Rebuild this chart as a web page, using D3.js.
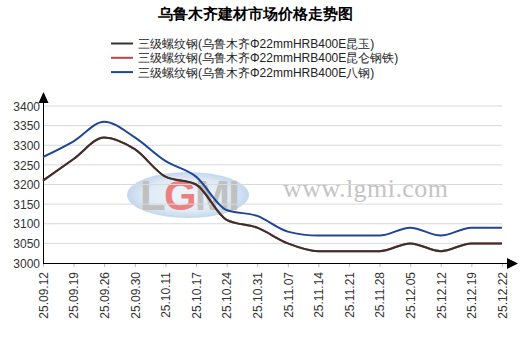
<!DOCTYPE html>
<html>
<head>
<meta charset="utf-8">
<script src="https://cdn.jsdelivr.net/npm/d3@7"></script>
<style>
  body { margin: 0; background: #fff; }
  text { font-family: "Liberation Sans", Arial, sans-serif; }
</style>
</head>
<body>
<div id="chart"></div>
<script>
// Chart data
var dates = ["25.09.12", "25.09.19", "25.09.26", "25.09.30", "25.10.11", "25.10.17", "25.10.24", "25.10.31",
             "25.11.07", "25.11.14", "25.11.21", "25.11.28", "25.12.05", "25.12.12", "25.12.19", "25.12.22"];
var kunyu   = [3210, 3265, 3320, 3290, 3220, 3200, 3110, 3090, 3050, 3030, 3030, 3030, 3050, 3030, 3050, 3050];
var kunlun  = [3210, 3265, 3320, 3290, 3220, 3200, 3110, 3090, 3050, 3030, 3030, 3030, 3050, 3030, 3050, 3050];
var bagang  = [3270, 3310, 3360, 3320, 3260, 3220, 3135, 3120, 3080, 3070, 3070, 3070, 3090, 3070, 3090, 3090];
var yTicks  = [3000, 3050, 3100, 3150, 3200, 3250, 3300, 3350, 3400];
var seriesNames = ["三级螺纹钢(乌鲁木齐Φ22mmHRB400E昆玉)", "三级螺纹钢(乌鲁木齐Φ22mmHRB400E昆仑钢铁)", "三级螺纹钢(乌鲁木齐Φ22mmHRB400E八钢)"];
var seriesColors = ["#3a3030", "#b84848", "#1f4596"];

var svgWidth = 521;
var svgHeight = 339;

var svg = d3.select("#chart")
  .append("svg")
  .attr("width", svgWidth)
  .attr("height", svgHeight);

// Scales
var xScale = d3.scalePoint()
  .domain(dates)
  .range([43, 502]);

var yScale = d3.scaleLinear()
  .domain([3000, 3400])
  .range([263, 106]);

// Watermark
var wm = svg.append("g");
var grad = svg.append("defs").append("radialGradient").attr("id", "wmgrad");
grad.append("stop").attr("offset", "0%").attr("stop-color", "#f2f6fb");
grad.append("stop").attr("offset", "70%").attr("stop-color", "#dfeaf5");
grad.append("stop").attr("offset", "100%").attr("stop-color", "#c2d8ee");
wm.append("ellipse")
  .attr("cx", 188).attr("cy", 195)
  .attr("rx", 61).attr("ry", 23)
  .attr("fill", "url(#wmgrad)");
var logo = wm.append("text")
  .attr("x", 190).attr("y", 210)
  .attr("text-anchor", "middle")
  .attr("textLength", 100)
  .style("font-size", "42px")
  .style("font-weight", "bold");
logo.append("tspan").attr("fill", "#c0c0c0").text("L");
logo.append("tspan").attr("fill", "#ec8080").text("G");
logo.append("tspan").attr("fill", "#c0c0c0").text("MI");
wm.append("text")
  .attr("x", 283).attr("y", 197)
  .attr("textLength", 165)
  .style("font-family", "'Liberation Serif', 'Times New Roman', serif")
  .style("font-size", "26px")
  .attr("fill", "#c4c4c4")
  .text("www.lgmi.com");

// Gridlines
svg.append("g")
  .selectAll("line")
  .data(yTicks.slice(1))
  .enter()
  .append("line")
  .attr("x1", 43).attr("x2", 502)
  .attr("y1", d => yScale(d)).attr("y2", d => yScale(d))
  .attr("stroke", "#d9d9d9")
  .attr("stroke-width", 1);

// Y axis
var leftAxis = d3.axisLeft(yScale).tickValues(yTicks).tickFormat(d3.format("d")).tickSize(0).tickPadding(3);
var yG = svg.append("g")
  .attr("transform", "translate(43,0)")
  .call(leftAxis);
yG.select(".domain").remove();
yG.selectAll("text").style("font-size", "12px").attr("fill", "#333").attr("dy", "0.35em");

// X axis
var bottomAxis = d3.axisBottom(xScale).tickSize(4).tickPadding(0);
var xG = svg.append("g")
  .attr("transform", "translate(0,263)")
  .call(bottomAxis);
xG.select(".domain").remove();
xG.selectAll(".tick line").attr("stroke", "#bbb");
xG.selectAll("text")
  .style("font-size", "12px")
  .attr("fill", "#333")
  .attr("text-anchor", "end")
  .attr("transform", "rotate(-90)")
  .attr("x", -9)
  .attr("y", 0)
  .attr("dy", "0.35em");

// Axis lines with arrows
svg.append("line").attr("x1", 43).attr("x2", 510).attr("y1", 263.5).attr("y2", 263.5).attr("stroke", "#000");
svg.append("line").attr("x1", 43.5).attr("x2", 43.5).attr("y1", 263).attr("y2", 98).attr("stroke", "#000");
svg.append("path").attr("d", "M507,258 L518,263.5 L507,269 Z").attr("fill", "#000");
svg.append("path").attr("d", "M38.5,103 L43.5,92 L48.5,103 Z").attr("fill", "#000");

// Lines
var line = d3.line()
  .x((d, i) => xScale(dates[i]))
  .y(d => yScale(d))
  .curve(d3.curveMonotoneX);

var drawOrder = [[kunlun, 1], [kunyu, 0], [bagang, 2]];
drawOrder.forEach(function(s) {
  svg.append("path")
    .datum(s[0])
    .attr("d", line)
    .attr("fill", "none")
    .attr("stroke", seriesColors[s[1]])
    .attr("stroke-width", 2);
});

// Title
svg.append("text")
  .attr("x", 255).attr("y", 19)
  .attr("text-anchor", "middle")
  .style("font-size", "15px")
  .style("font-weight", "bold")
  .attr("fill", "#000")
  .text("乌鲁木齐建材市场价格走势图");

// Legend
var legend = svg.append("g");
seriesNames.forEach(function(name, i) {
  var y = 43.5 + i * 14.3;
  legend.append("line")
    .attr("x1", 111).attr("x2", 133)
    .attr("y1", y).attr("y2", y)
    .attr("stroke", seriesColors[i])
    .attr("stroke-width", 2);
  legend.append("text")
    .attr("x", 138).attr("y", y)
    .attr("dy", "0.38em")
    .style("font-size", "12px")
    .attr("fill", "#222")
    .text(name);
});
</script>
</body>
</html>
